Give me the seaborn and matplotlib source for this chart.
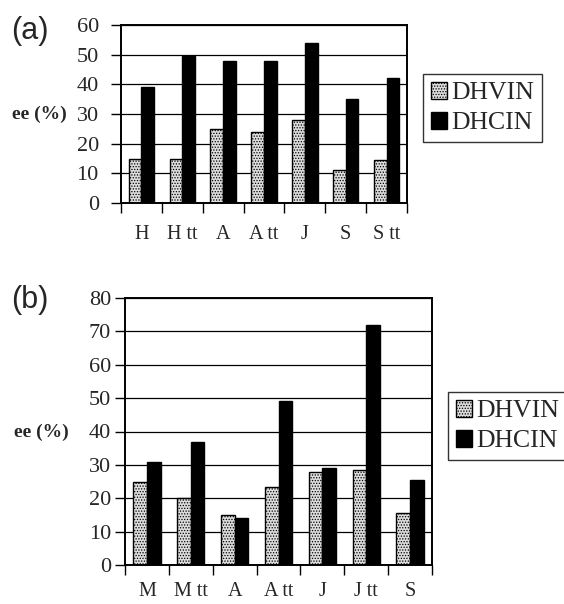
import matplotlib
matplotlib.use("Agg")
import matplotlib.pyplot as plt
import seaborn as sns
import pandas as pd

# ---- data ----
series = ["DHVIN", "DHCIN"]

cats_a = ["H", "H tt", "A", "A tt", "J", "S", "S tt"]
dhvin_a = [15, 15, 25, 24, 28, 11, 14.5]
dhcin_a = [39, 49.5, 48, 48, 54, 35, 42]
yticks_a = [0, 10, 20, 30, 40, 50, 60]

cats_b = ["M", "M tt", "A", "A tt", "J", "J tt", "S"]
dhvin_b = [25, 20, 15, 23.5, 28, 28.5, 15.5]
dhcin_b = [31, 37, 14, 49, 29, 72, 25.5]
yticks_b = [0, 10, 20, 30, 40, 50, 60, 70, 80]

sns.set_theme(style="white")
plt.rcParams["font.family"] = ["Liberation Serif", "DejaVu Serif"]
plt.rcParams["hatch.linewidth"] = 0.6

fig = plt.figure(figsize=(5.64, 6.04), dpi=100)

def make_df(cats, v1, v2):
    return pd.DataFrame({
        "cat": cats + cats,
        "ee": v1 + v2,
        "series": [series[0]] * len(cats) + [series[1]] * len(cats),
    })

def panel(rect, cats, v1, v2, yticks, letter, letter_xy, ylab_xy, leg_anchor, ypad, xpad):
    ax = fig.add_axes(rect)
    df = make_df(cats, v1, v2)
    sns.barplot(data=df, x="cat", y="ee", hue="series", hue_order=series,
                palette=["#dcdcdc", "black"], edgecolor="black", linewidth=1.0,
                width=0.62, gap=0, ax=ax, errorbar=None)
    for p in ax.containers[0]:
        p.set_hatch("......")
    ax.set_ylim(yticks[0], yticks[-1])
    ax.set_xlim(-0.5, len(cats) - 0.5)
    ax.set_yticks(yticks)
    ax.set_yticklabels([str(t) for t in yticks], fontsize=16)
    ax.set_xticks(range(len(cats)))
    ax.set_xticklabels(cats, fontsize=14.5)
    ax.set_xticks([i - 0.5 for i in range(len(cats) + 1)], minor=True)
    ax.tick_params(axis="x", which="major", length=0, pad=xpad)
    ax.tick_params(axis="x", which="minor", length=7, width=1, direction="out", color="black", bottom=True)
    ax.tick_params(axis="y", which="major", length=7, width=1, direction="out", color="black", left=True, pad=ypad)
    ax.set_xlabel("")
    ax.set_ylabel("")
    ax.yaxis.grid(True, color="black", linewidth=0.9)
    ax.set_axisbelow(True)
    for s in ax.spines.values():
        s.set_visible(True)
        s.set_color("black")
        s.set_linewidth(1.4)
    handles, labels = ax.get_legend_handles_labels()
    ax.get_legend().remove()
    handles[0].set_hatch("......")
    fig.legend(handles, labels, loc="center left", bbox_to_anchor=leg_anchor,
               fontsize=18.5, frameon=True, fancybox=False, edgecolor="black",
               handlelength=0.65, handleheight=0.65, handletextpad=0.15,
               borderpad=0.3, labelspacing=0.3, borderaxespad=0)
    fig.text(letter_xy[0], letter_xy[1], letter, fontsize=22,
             family=["Liberation Sans", "DejaVu Sans"], va="center", ha="left")
    fig.text(ylab_xy[0], ylab_xy[1], "ee (%)", fontsize=14, fontweight="bold",
             va="center", ha="left")
    return ax

panel([121/564, 1 - 203/604, 286/564, 178/604], cats_a, dhvin_a, dhcin_a, yticks_a,
      "(a)", (11/564, 1 - 31/604), (12/564, 1 - 114/604), (423/564, 1 - 108/604), 9, 16)
panel([125/564, 1 - 565/604, 307/564, 267/604], cats_b, dhvin_b, dhcin_b, yticks_b,
      "(b)", (11/564, 1 - 300/604), (14/564, 1 - 432/604), (448/564, 1 - 426/604), 3, 12)

fig.savefig("out.png", dpi=100)
